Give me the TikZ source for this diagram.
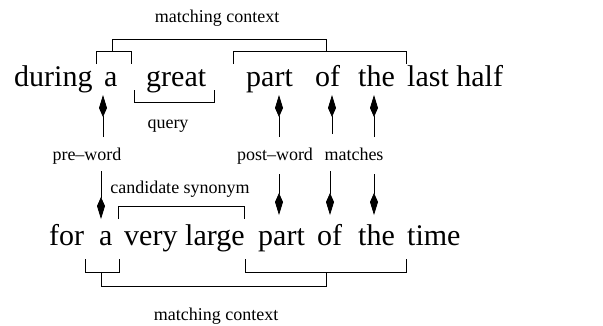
\documentclass[tikz,border=0pt]{standalone}
\usepackage{fontspec}
\setmainfont{Liberation Serif}
\usetikzlibrary{arrows.meta}
\begin{document}
\begin{tikzpicture}[x=1pt,y=-1pt,
 big/.style={font=\fontsize{30}{36}\selectfont, inner sep=0pt, anchor=base west},
 small/.style={font=\fontsize{18}{22}\selectfont, inner sep=0pt, anchor=base},
 arr/.style={line width=0.8pt, -{Kite[length=22pt,width=8pt,inset=9pt]}},
 br/.style={line width=0.8pt}]
\useasboundingbox (0,0) rectangle (603,325);
% top sentence
\node[big] (t1) at (14,86) {during};
\node[big] (t2) at (104,86) {a};
\node[big] (t3) at (146,86) {great};
\node[big] (t4) at (246,86) {part};
\node[big] (t5) at (315,86) {of};
\node[big] (t6) at (358,86) {the};
\node[big] (t7) at (407,86) {last half};
% bottom sentence
\node[big] (b1) at (49,245) {for};
\node[big] (b2) at (99,245) {a};
\node[big] (b3) at (124,245) {very};
\node[big] (b4) at (185,245) {large};
\node[big] (b5) at (258,245) {part};
\node[big] (b6) at (317,245) {of};
\node[big] (b7) at (358,245) {the};
\node[big] (b8) at (407,245) {time};
% labels
\node[small] (mctop) at (217,22.5) {matching context};
\node[small] (query) at (168,128) {query};
\node[small] (pre) at (87,160) {pre--word};
\node[small] (post) at (275,160) {post--word};
\node[small] (match) at (354,160) {matches};
\node[small] (cand) at (180,193) {candidate synonym};
\node[small] (mcbot) at (216,320) {matching context};
% arrow end points
\coordinate (u1a) at (103,137); \coordinate (u1b) at (103,95);
\coordinate (u2a) at (279,137); \coordinate (u2b) at (279,95);
\coordinate (u3a) at (332,134); \coordinate (u3b) at (332,95);
\coordinate (u4a) at (374,137); \coordinate (u4b) at (374,95);
\coordinate (d1a) at (101,171); \coordinate (d1b) at (101,219);
\coordinate (d2a) at (279,174); \coordinate (d2b) at (279,215);
\coordinate (d3a) at (330,171); \coordinate (d3b) at (330,215);
\coordinate (d4a) at (374,174); \coordinate (d4b) at (374,215);
\foreach \p in {u1,u2,u3,u4,d1,d2,d3,d4} \draw[arr] (\p a) -- (\p b);
% brackets
\draw[br] (96,64) -- (96,51) -- (131,51) -- (131,64);
\draw[br] (233,64) -- (233,51) -- (406,51) -- (406,64);
\draw[br] (112,51) -- (112,39.5) -- (326,39.5) -- (326,51);
\draw[br] (134,90) -- (134,102) -- (214,102) -- (214,90);
\draw[br] (118,219) -- (118,206) -- (244,206) -- (244,219);
\draw[br] (85,259) -- (85,272) -- (119,272) -- (119,259);
\draw[br] (245,259) -- (245,272) -- (406,272) -- (406,259);
\draw[br] (101,272) -- (101,286) -- (326,286) -- (326,272);
\end{tikzpicture}
\end{document}
